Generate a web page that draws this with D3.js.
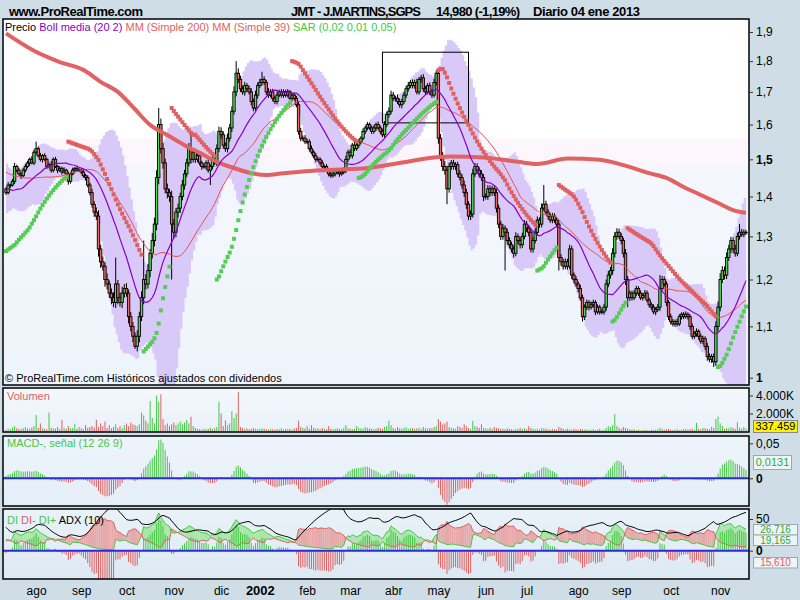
<!DOCTYPE html>
<html><head><meta charset="utf-8">
<script src="https://cdn.jsdelivr.net/npm/d3@7"></script>
<style>
body{margin:0;background:#cfdee6;}
svg{display:block;font-family:"Liberation Sans",Arial,sans-serif;}
</style>
</head><body>
<svg id="c" width="800" height="600"></svg>
<script>
// ---------------- DATA ----------------
const closes = [1.41,1.43,1.43,1.44,1.48,1.47,1.46,1.455,1.47,1.48,
1.49,1.50,1.49,1.52,1.53,1.51,1.50,1.51,1.50,1.48,
1.485,1.47,1.50,1.48,1.47,1.475,1.465,1.47,1.46,1.44,
1.46,1.47,1.475,1.47,1.47,1.465,1.455,1.45,1.43,1.41,
1.38,1.36,1.35,1.27,1.24,1.23,1.20,1.19,1.17,1.16,
1.15,1.19,1.16,1.15,1.17,1.18,1.17,1.12,1.10,1.08,
1.06,1.08,1.12,1.16,1.20,1.19,1.22,1.26,1.29,1.33,
1.45,1.60,1.53,1.49,1.42,1.41,1.40,1.33,1.31,1.36,
1.37,1.40,1.43,1.46,1.49,1.53,1.50,1.52,1.50,1.51,
1.49,1.48,1.48,1.49,1.47,1.48,1.50,1.49,1.53,1.58,
1.57,1.54,1.53,1.56,1.59,1.64,1.70,1.76,1.74,1.71,
1.70,1.72,1.71,1.70,1.67,1.65,1.69,1.72,1.73,1.74,
1.73,1.70,1.69,1.70,1.68,1.67,1.69,1.70,1.69,1.70,
1.69,1.70,1.68,1.69,1.68,1.66,1.58,1.56,1.56,1.55,
1.55,1.53,1.52,1.51,1.50,1.50,1.49,1.48,1.48,1.47,
1.46,1.455,1.46,1.47,1.465,1.46,1.465,1.47,1.50,1.52,
1.51,1.54,1.53,1.54,1.55,1.56,1.58,1.59,1.60,1.59,
1.58,1.59,1.60,1.59,1.58,1.57,1.60,1.63,1.64,1.69,
1.68,1.68,1.67,1.66,1.67,1.69,1.71,1.72,1.73,1.72,
1.73,1.70,1.74,1.745,1.71,1.70,1.72,1.70,1.69,1.73,
1.76,1.56,1.51,1.48,1.47,1.42,1.48,1.49,1.48,1.485,
1.46,1.45,1.43,1.41,1.38,1.35,1.355,1.46,1.48,1.47,
1.46,1.45,1.40,1.40,1.42,1.41,1.42,1.41,1.37,1.33,
1.30,1.32,1.31,1.29,1.28,1.27,1.26,1.30,1.29,1.28,
1.30,1.33,1.32,1.31,1.27,1.29,1.31,1.34,1.33,1.37,
1.38,1.36,1.35,1.34,1.35,1.34,1.33,1.25,1.24,1.23,
1.24,1.23,1.27,1.21,1.20,1.19,1.18,1.16,1.12,1.14,
1.15,1.14,1.145,1.15,1.13,1.14,1.13,1.13,1.14,1.19,
1.21,1.22,1.26,1.30,1.31,1.30,1.29,1.26,1.20,1.16,
1.17,1.16,1.17,1.18,1.17,1.16,1.165,1.17,1.155,1.145,
1.14,1.13,1.135,1.14,1.18,1.20,1.19,1.15,1.12,1.11,
1.105,1.11,1.105,1.12,1.125,1.12,1.125,1.12,1.10,1.08,
1.085,1.09,1.08,1.07,1.075,1.06,1.04,1.035,1.04,1.03,
1.10,1.14,1.20,1.22,1.21,1.25,1.27,1.29,1.27,1.26,
1.30,1.31,1.305,1.31,1.31];

// closes before the first visible bar (needed by the moving averages)
const priorCloses = [1.55,1.54,1.53,1.55,1.52,1.51,1.53,1.50,1.49,1.51,
1.50,1.52,1.50,1.49,1.48,1.50,1.49,1.47,1.48,
1.49,1.47,1.48,1.46,1.44,1.45,1.43,1.40,1.38,1.37,
1.39,1.40,1.42,1.41,1.43,1.42,1.40,1.39,1.42];
const priorWickUp = [6,8,5,7,9,6,8,5,7,6, 8,5,7,6,9,7,5,8,6, 7,9,6,8,10,7,9,8,10,12, 9,8,10,7,9,8,10,7,8];
const priorWickDn = [7,5,8,6,7,9,5,8,6,7, 5,8,6,9,7,5,8,6,7, 8,6,9,7,10,8,11,9,12,10, 8,9,7,10,8,9,7,8,9];

// upper / lower shadows beyond the body, in thousandths
const wickUp = [5,8,4,6,10,5,7,4,6,8,
6,5,9,7,0,6,8,5,7,4,
6,10,5,7,4,6,5,8,4,6,
5,7,4,6,5,4,8,5,6,7,
10,8,12,15,10,12,9,14,8,10,
12,0,9,11,14,10,12,8,10,9,
8,12,10,14,0,12,15,10,18,16,
20,0,18,16,12,14,10,15,12,10,
12,10,14,11,12,16,0,12,10,8,
8,6,9,7,10,6,8,7,12,14,
12,10,8,14,12,15,18,0,16,12,
10,12,8,10,12,9,14,10,12,0,
10,8,12,9,10,8,12,7,9,8,
7,9,6,8,7,8,12,10,8,9,
8,7,9,6,8,7,6,8,5,7,
6,5,7,6,5,7,6,8,10,7,
8,6,9,7,8,6,9,7,8,6,
7,8,6,9,7,8,10,9,12,14,
10,8,12,9,8,10,9,11,8,10,
9,12,8,10,12,9,8,10,9,12,
0,14,12,10,15,12,10,8,9,7,
8,10,9,12,10,8,9,14,10,9,
8,10,9,8,10,9,8,7,10,9,
8,10,7,9,8,7,8,10,7,8,
9,10,8,7,9,8,10,9,7,12,
0,9,8,7,8,7,6,10,8,7,
8,7,10,8,6,7,6,8,7,6,
6,5,7,6,5,6,5,6,7,10,
9,8,12,10,0,9,8,7,10,8,
6,5,7,6,5,6,5,7,6,5,
5,6,5,7,0,8,7,6,5,6,
5,4,6,5,4,5,6,4,5,6,
5,6,4,5,6,5,7,6,5,6,
10,12,14,10,9,12,10,9,8,10,
9,0,8,7,6];
const wickDn = [6,5,8,4,7,6,5,9,4,6,
5,8,4,6,7,5,6,9,5,7,
5,7,6,4,8,5,7,4,6,9,
6,4,7,5,4,6,5,8,6,7,
9,12,10,18,14,10,16,12,10,14,
10,12,14,9,12,10,8,14,10,12,
0,10,12,9,14,12,10,15,12,14,
15,18,14,16,12,15,14,0,16,12,
14,12,10,12,9,10,12,9,10,8,
7,9,6,8,7,0,8,6,9,10,
12,10,9,11,10,12,10,14,12,10,
9,12,10,8,12,10,9,11,8,10,
8,10,9,7,10,8,9,7,8,9,
7,8,6,9,7,8,10,9,8,7,
7,8,6,7,8,6,7,5,8,6,
7,6,5,7,6,8,5,6,8,7,
6,8,7,6,8,7,6,8,7,6,
8,7,9,6,8,7,9,8,10,9,
9,10,8,9,11,8,10,9,8,9,
10,8,9,11,10,9,8,10,9,8,
10,16,14,12,12,0,10,9,8,10,
9,8,10,11,12,0,10,9,8,9,
10,9,12,8,9,10,8,9,11,10,
9,8,0,10,9,8,10,7,8,9,
8,7,9,10,8,9,7,8,9,8,
7,8,9,7,8,7,8,0,9,8,
7,8,6,9,8,7,8,6,0,7,
6,7,5,6,7,5,6,5,6,8,
7,8,9,10,8,7,9,10,12,0,
7,6,5,7,6,5,6,7,5,6,
6,5,7,5,8,7,6,8,7,6,
5,6,5,4,6,5,4,6,7,6,
5,6,7,5,6,7,8,6,7,0,
8,10,9,8,10,9,8,10,9,8,
7,8,6,7,6];

// notable long shadows [bar index, price]
const highWicks = [[14,1.55],[51,1.25],[64,1.29],[71,1.65],[86,1.57],[107,1.80],[119,1.765],[200,1.77],[250,1.43],[284,1.32],[304,1.21],[341,1.33]];
const lowWicks = [[60,1.055],[77,1.20],[95,1.43],[205,1.38],[215,1.34],[232,1.22],[257,1.22],[268,1.11],[289,1.14],[329,1.02]];

// volume, thousands of shares
const volumes = [200,300,250,450,600,350,300,250,400,500,
350,300,450,600,1830,400,900,350,300,250,
2100,400,350,300,500,250,1300,400,300,600,
350,400,860,300,500,350,250,700,400,500,
600,450,1300,500,900,600,1100,400,700,350,
500,800,400,600,350,700,900,600,1000,800,
700,600,800,2100,1800,1200,900,3400,1500,900,
4000,3300,4140,1400,700,900,600,800,1000,700,
900,1100,800,1000,1300,900,1650,600,400,300,
250,200,300,250,300,400,250,350,500,3300,
2000,600,1240,700,900,2240,1500,2000,4400,500,
400,300,350,250,300,400,300,250,300,350,
300,250,200,300,250,200,300,250,350,200,
300,250,300,200,350,400,1200,500,400,350,
600,300,700,400,300,350,250,400,300,250,
600,300,250,300,350,300,250,400,700,350,
300,250,300,600,400,350,300,500,400,350,
300,250,300,400,350,300,500,600,1200,700,
400,300,500,350,300,400,450,300,350,400,
300,350,400,300,500,350,300,400,350,500,
600,1380,1100,800,900,1100,500,400,350,300,
600,500,400,800,600,400,300,1200,600,500,
400,800,400,350,300,400,300,500,400,350,
300,300,250,350,300,250,200,300,250,400,
300,350,250,600,400,300,250,300,200,400,
350,300,250,200,300,250,200,500,400,300,
250,300,250,200,300,250,200,300,250,200,
250,150,200,250,150,200,300,150,200,400,
600,500,700,1930,600,400,300,500,400,300,
250,200,250,150,200,100,150,200,150,100,
200,150,200,250,400,300,200,250,300,200,
150,200,250,150,200,250,300,200,250,300,
200,960,300,250,400,350,300,250,500,400,
1380,1650,900,600,300,400,350,500,400,300,
1030,400,300,500,337.459];

// 200-day simple average [bar index, value]
const sma200Points = [[0,1.895],[13,1.835],[25,1.797],[36,1.771],[44,1.732],[52,1.700],[59,1.653],[67,1.599],[75,1.569],[83,1.540],[90,1.518],[98,1.493],[106,1.476],[114,1.462],[121,1.457],[129,1.462],[137,1.466],[152,1.471],[168,1.476],[183,1.490],[199,1.505],[207,1.508],[222,1.505],[238,1.493],[247,1.487],[261,1.502],[276,1.499],[287,1.484],[299,1.462],[307,1.449],[315,1.425],[323,1.404],[331,1.383],[338,1.365],[344,1.358]];

const sarParams = [0.02, 0.01, 0.05];
const sarStart = {long:true, sar:1.265, ep:1.45};
const bollPeriod = 20, bollK = 2, smaShort = 39;
const macdParams = [12, 26, 9];
const adxPeriod = 10;

const priceTicks = [1,1.1,1.2,1.3,1.4,1.5,1.6,1.7,1.8,1.9];
const volumeTicks = [2000,4000];
const macdTicks = [0,0.05];
const diTicks = [0,50];
const monthTickIdx = [14,35,56,78,100,118,140,160,180,201,223,242,266,286,309,332];
const monthTickLabels = ["ago","sep","oct","nov","dic","2002","feb","mar","abr","may","jun","jul","ago","sep","oct","nov"];
const zoomBox = {i0:175, i1:215, lo:1.605, hi:1.83};

// ---------------- COMPUTATIONS ----------------
const N = closes.length, P = priorCloses.length;
const all = priorCloses.concat(closes);
const wUpAll = priorWickUp.concat(wickUp), wDnAll = priorWickDn.concat(wickDn);
const opensAll = all.map((c,k)=> k===0 ? c : all[k-1]);
const highsAll = all.map((c,k)=> Math.max(c, opensAll[k]) + wUpAll[k]/1000);
const lowsAll = all.map((c,k)=> Math.min(c, opensAll[k]) - wDnAll[k]/1000);
highWicks.forEach(([i,v])=> highsAll[P+i] = v);
lowWicks.forEach(([i,v])=> lowsAll[P+i] = v);

function smaAt(k,n){ const s=Math.max(0,k-n+1); return d3.mean(all.slice(s,k+1)); }
function stdAt(k,n){ const s=Math.max(0,k-n+1); const a=all.slice(s,k+1); const m=d3.mean(a); return Math.sqrt(d3.mean(a,v=>(v-m)*(v-m))); }

const bars = closes.map((c,i)=>{
  const k=P+i;
  const m=smaAt(k,bollPeriod), sd=stdAt(k,bollPeriod);
  return {i, o:opensAll[k], h:highsAll[k], l:lowsAll[k], c, v:volumes[i],
          mid:m, up:m+bollK*sd, dn:m-bollK*sd, ma39:smaAt(k,smaShort)};
});

// MACD histogram
(function(){
  const a1=2/(macdParams[0]+1), a2=2/(macdParams[1]+1), a3=2/(macdParams[2]+1);
  let e1=all[0], e2=all[0], sig=0;
  all.forEach((c,k)=>{
    e1+=a1*(c-e1); e2+=a2*(c-e2);
    const m=e1-e2; sig+=a3*(m-sig);
    if(k>=P) bars[k-P].macdH = m-sig;
  });
})();

// DI+, DI-, ADX (Wilder)
(function(){
  let tr=null, pdm=null, mdm=null, adx=null;
  for(let k=1;k<all.length;k++){
    const h=highsAll[k], l=lowsAll[k], ph=highsAll[k-1], pl=lowsAll[k-1], pc=all[k-1];
    const t=Math.max(h-l, Math.abs(h-pc), Math.abs(l-pc));
    const up=h-ph, dn=pl-l;
    const p=(up>dn && up>0)?up:0, m=(dn>up && dn>0)?dn:0;
    if(tr===null){tr=t;pdm=p;mdm=m;}
    else {tr+=(t-tr)/adxPeriod; pdm+=(p-pdm)/adxPeriod; mdm+=(m-mdm)/adxPeriod;}
    const dip=tr>0?100*pdm/tr:0, dim=tr>0?100*mdm/tr:0;
    const dx=(dip+dim)>0?100*Math.abs(dip-dim)/(dip+dim):0;
    adx = adx===null ? dx : adx+(dx-adx)/adxPeriod;
    if(k>=P){ const b=bars[k-P]; b.dip=dip; b.dim=dim; b.adx=adx; }
  }
})();

// Parabolic SAR
(function(){
  const [af0, step, afMax] = sarParams;
  let long=sarStart.long, sar=sarStart.sar, ep=sarStart.ep, af=af0;
  bars[0].sar=sar; bars[0].sarLong=long;
  for(let i=1;i<N;i++){
    const k=P+i;
    let s = sar + af*(ep-sar);
    if(long){
      s=Math.min(s, lowsAll[k-1], lowsAll[k-2]);
      if(lowsAll[k]<s){ long=false; s=ep; ep=lowsAll[k]; af=af0; }
      else if(highsAll[k]>ep){ ep=highsAll[k]; af=Math.min(af+step,afMax); }
    } else {
      s=Math.max(s, highsAll[k-1], highsAll[k-2]);
      if(highsAll[k]>s){ long=true; s=ep; ep=highsAll[k]; af=af0; }
      else if(lowsAll[k]<ep){ ep=lowsAll[k]; af=Math.min(af+step,afMax); }
    }
    sar=s; bars[i].sar=s; bars[i].sarLong=long;
  }
})();

// ---------------- DRAWING ----------------
const svg = d3.select("#c");
const defs = svg.append("defs");
function grad(id, stops){
  const g=defs.append("linearGradient").attr("id",id).attr("x1",0).attr("y1",0).attr("x2",0).attr("y2",1);
  stops.forEach(([o,c])=>g.append("stop").attr("offset",o).attr("stop-color",c));
}
grad("gMain",[[0,"#ffffff"],[0.32,"#ffffff"],[0.33,"#fdf7fd"],[0.40,"#fbf6fc"],[0.405,"#f4f7fd"],[1,"#eef4fb"]]);
grad("gVol",[[0,"#f4f8fd"],[1,"#e9f1f9"]]);
grad("gMacd",[[0,"#eef4fb"],[1,"#e4eef7"]]);
grad("gDi",[[0,"#e9f2f8"],[1,"#dde9f3"]]);

const PAN = {
  main:{x:3,y:19,w:746,h:366,fill:"url(#gMain)"},
  vol:{x:3,y:388,w:746,h:44,fill:"url(#gVol)"},
  macd:{x:3,y:436,w:746,h:70,fill:"url(#gMacd)"},
  di:{x:3,y:509,w:746,h:70,fill:"url(#gDi)"}
};
Object.entries(PAN).forEach(([k,p])=>{
  svg.append("rect").attr("x",p.x).attr("y",p.y).attr("width",p.w).attr("height",p.h).attr("fill",p.fill);
  defs.append("clipPath").attr("id","clip-"+k).append("rect").attr("x",p.x).attr("y",p.y).attr("width",p.w).attr("height",p.h);
});

const x = d3.scaleLinear().domain([0,N-1]).range([6,746]);
const yP = d3.scaleLog().domain([1,1.9]).range([377.7,32]);
const yV = d3.scaleLinear().domain([0,4000]).range([431.5,395.5]);
const yM = d3.scaleLinear().domain([0,0.05]).range([478.3,443.3]);
const yD = d3.scaleLinear().domain([0,50]).range([550.7,519]);

const GREEN="#55d855", RED="#e86868", LGREEN="#44c844", LRED="#e06060";

// ---- main panel
const gm = svg.append("g").attr("clip-path","url(#clip-main)");
gm.append("path").datum(bars)
  .attr("d", d3.area().x(d=>x(d.i)).y0(d=>yP(d.dn)).y1(d=>yP(d.up)).curve(d3.curveStepAfter))
  .attr("fill","#d8c9f9");
gm.append("rect").attr("x",x(zoomBox.i0)).attr("y",yP(zoomBox.hi))
  .attr("width",x(zoomBox.i1)-x(zoomBox.i0)).attr("height",yP(zoomBox.lo)-yP(zoomBox.hi))
  .attr("fill","none").attr("stroke","#000").attr("stroke-width",1);
const cg = gm.append("g");
cg.selectAll("line.w").data(bars).join("line").attr("class","w")
  .attr("x1",d=>x(d.i)).attr("x2",d=>x(d.i)).attr("y1",d=>yP(d.h)).attr("y2",d=>yP(d.l))
  .attr("stroke","#000").attr("stroke-width",1);
cg.selectAll("rect").data(bars).join("rect")
  .attr("x",d=>x(d.i)-1.2).attr("width",2.4)
  .attr("y",d=>yP(Math.max(d.o,d.c)))
  .attr("height",d=>Math.max(0.6, yP(Math.min(d.o,d.c))-yP(Math.max(d.o,d.c))))
  .attr("fill",d=>d.c>=d.o?GREEN:RED).attr("stroke","#000").attr("stroke-width",0.9);
gm.append("path").datum(sma200Points)
  .attr("d", d3.line().x(d=>x(d[0])).y(d=>yP(d[1])).curve(d3.curveMonotoneX))
  .attr("fill","none").attr("stroke","#e06262").attr("stroke-width",4);
gm.append("path").datum(bars)
  .attr("d", d3.line().x(d=>x(d.i)).y(d=>yP(d.ma39)))
  .attr("fill","none").attr("stroke","#e85050").attr("stroke-width",1);
gm.append("path").datum(bars)
  .attr("d", d3.line().x(d=>x(d.i)).y(d=>yP(d.mid)))
  .attr("fill","none").attr("stroke","#8a00c8").attr("stroke-width",1.2);
gm.selectAll("rect.sar").data(bars).join("rect").attr("class","sar")
  .attr("x",d=>x(d.i)-2).attr("y",d=>yP(d.sar)-2).attr("width",4).attr("height",4)
  .attr("fill",d=>d.sarLong?"#55cc55":"#e06060");

// ---- volume panel
const gv = svg.append("g").attr("clip-path","url(#clip-vol)");
gv.selectAll("line").data(bars).join("line")
  .attr("x1",d=>x(d.i)).attr("x2",d=>x(d.i)).attr("y1",yV(0)).attr("y2",d=>yV(d.v))
  .attr("stroke",d=>d.c>=d.o?LGREEN:LRED).attr("stroke-width",1);

// ---- MACD panel
const gmc = svg.append("g").attr("clip-path","url(#clip-macd)");
gmc.selectAll("line").data(bars).join("line")
  .attr("x1",d=>x(d.i)).attr("x2",d=>x(d.i)).attr("y1",yM(0)).attr("y2",d=>yM(d.macdH))
  .attr("stroke",d=>d.macdH>=0?LGREEN:LRED).attr("stroke-width",1);
gmc.append("line").attr("x1",3).attr("x2",749).attr("y1",yM(0)).attr("y2",yM(0)).attr("stroke","#2a2ae0").attr("stroke-width",2);

// ---- DI panel
const gd = svg.append("g").attr("clip-path","url(#clip-di)");
for(let i=0;i<N-1;i++){
  const a=bars[i], b=bars[i+1];
  gd.append("path")
    .attr("d",`M${x(a.i)},${yD(a.dip)}L${x(b.i)},${yD(b.dip)}L${x(b.i)},${yD(b.dim)}L${x(a.i)},${yD(a.dim)}Z`)
    .attr("fill", a.dip>=a.dim ? "#a8e6a8" : "#e6a8a8");
}
gd.selectAll("line.h").data(bars).join("line").attr("class","h")
  .attr("x1",d=>x(d.i)).attr("x2",d=>x(d.i)).attr("y1",yD(0)).attr("y2",d=>yD(d.dip-d.dim))
  .attr("stroke",d=>d.dip>=d.dim?LGREEN:LRED).attr("stroke-width",1);
gd.append("path").datum(bars).attr("d",d3.line().x(d=>x(d.i)).y(d=>yD(d.dip))).attr("fill","none").attr("stroke","#44c844").attr("stroke-width",1);
gd.append("path").datum(bars).attr("d",d3.line().x(d=>x(d.i)).y(d=>yD(d.dim))).attr("fill","none").attr("stroke","#e06060").attr("stroke-width",1);
gd.append("path").datum(bars).attr("d",d3.line().x(d=>x(d.i)).y(d=>yD(d.adx))).attr("fill","none").attr("stroke","#000").attr("stroke-width",1);
gd.append("line").attr("x1",3).attr("x2",749).attr("y1",yD(0)).attr("y2",yD(0)).attr("stroke","#2a2ae0").attr("stroke-width",2);

Object.values(PAN).forEach(p=>{
  svg.append("rect").attr("x",p.x).attr("y",p.y).attr("width",p.w).attr("height",p.h)
    .attr("fill","none").attr("stroke","#000").attr("stroke-width",1.5);
});

// ---- axes
function styleAxis(g, boldSet){
  g.select(".domain").remove();
  g.selectAll("text").attr("font-size",12).attr("fill","#000").attr("font-family","Liberation Sans, Arial, sans-serif")
    .attr("font-weight",d=> boldSet && boldSet.includes(d) ? "bold":"normal");
  g.selectAll("line").attr("stroke","#333");
}
const fmtComma = d => (d===1?"1":d.toFixed(1).replace(".",","));
svg.append("g").attr("transform","translate(749,0)")
  .call(d3.axisRight(yP).tickValues(priceTicks).tickFormat(fmtComma).tickSize(4).tickPadding(3))
  .call(g=>styleAxis(g,[1,1.5]));
svg.append("g").attr("transform","translate(749,0)")
  .call(d3.axisRight(yV).tickValues(volumeTicks).tickFormat(d=>d3.format(",")(d).replace(",",".")+"K").tickSize(4).tickPadding(3))
  .call(g=>styleAxis(g));
svg.append("g").attr("transform","translate(749,0)")
  .call(d3.axisRight(yM).tickValues(macdTicks).tickFormat(d=>d===0?"0":d.toFixed(2).replace(".",",")).tickSize(4).tickPadding(3))
  .call(g=>styleAxis(g,[0]));
svg.append("g").attr("transform","translate(749,0)")
  .call(d3.axisRight(yD).tickValues(diTicks).tickFormat(d=>String(d)).tickSize(4).tickPadding(3))
  .call(g=>styleAxis(g,[0]));
svg.append("g").attr("transform","translate(0,579)")
  .call(d3.axisBottom(x).tickValues(monthTickIdx).tickFormat((d,i)=>monthTickLabels[i]).tickSize(0).tickPadding(7))
  .call(g=>{ g.select(".domain").remove();
    g.selectAll("text").attr("font-size",d=>d===118?13:12).attr("font-weight",d=>d===118?"bold":"normal")
      .attr("fill","#000").attr("font-family","Liberation Sans, Arial, sans-serif"); });

// ---- value boxes
function valueBox(x0,y0,w,h,fill,stroke,txt,color,fs){
  svg.append("rect").attr("x",x0).attr("y",y0).attr("width",w).attr("height",h).attr("fill",fill).attr("stroke",stroke).attr("stroke-width",1);
  svg.append("text").attr("x",x0+w/2).attr("y",y0+h/2+fs*0.36).attr("text-anchor","middle").attr("font-size",fs).attr("fill",color).text(txt);
}
valueBox(753.5,420.5,44,12,"#fff200","#888","337.459","#000",11);
valueBox(753.5,455.5,38,14,"#eef4f8","#9aa8b0","0,0131","#33aa33",11);
valueBox(753.5,524.5,44,10.5,"#eef4f8","#9aa8b0","26,716","#33aa33",10);
valueBox(753.5,535,44,10.5,"#eef4f8","#9aa8b0","19,165","#33aa33",10);
valueBox(753.5,557.5,44,10.5,"#eef4f8","#9aa8b0","15,610","#e06060",10);

// ---- texts
svg.append("text").attr("x",9).attr("y",16).attr("font-size",13).attr("font-weight","bold").attr("textLength",134).text("www.ProRealTime.com");
svg.append("text").attr("x",291).attr("y",16).attr("font-size",13).attr("font-weight","bold").attr("textLength",130).text("JMT - J.MARTINS,SGPS");
svg.append("text").attr("x",436).attr("y",16).attr("font-size",13).attr("font-weight","bold").attr("textLength",84).text("14,980 (-1,19%)");
svg.append("text").attr("x",533).attr("y",16).attr("font-size",13).attr("font-weight","bold").attr("textLength",107).text("Diario  04 ene 2013");

const lg = svg.append("text").attr("x",5).attr("y",31).attr("font-size",11);
[["Precio ","#000"],["Boll media (20 2) ","#8a00c8"],["MM (Simple 200) ","#e06060"],["MM (Simple 39) ","#e06060"],["SAR (0,02 0,01 0,05)","#44c844"]]
  .forEach(([t,c])=>lg.append("tspan").attr("fill",c).text(t));
svg.append("text").attr("x",5).attr("y",382).attr("font-size",11).attr("fill","#000").text("© ProRealTime.com  Históricos ajustados con dividendos");
svg.append("text").attr("x",7).attr("y",400).attr("font-size",11).attr("fill","#e06060").text("Volumen");
svg.append("text").attr("x",7).attr("y",447).attr("font-size",11).attr("fill","#44c844").text("MACD-, señal (12 26 9)");
const dl = svg.append("text").attr("x",7).attr("y",524).attr("font-size",11);
[["DI ","#44c844"],["DI- ","#e06060"],["DI+ ","#44c844"],["ADX (10)","#000"]].forEach(([t,c])=>dl.append("tspan").attr("fill",c).text(t));
</script>
</body></html>
